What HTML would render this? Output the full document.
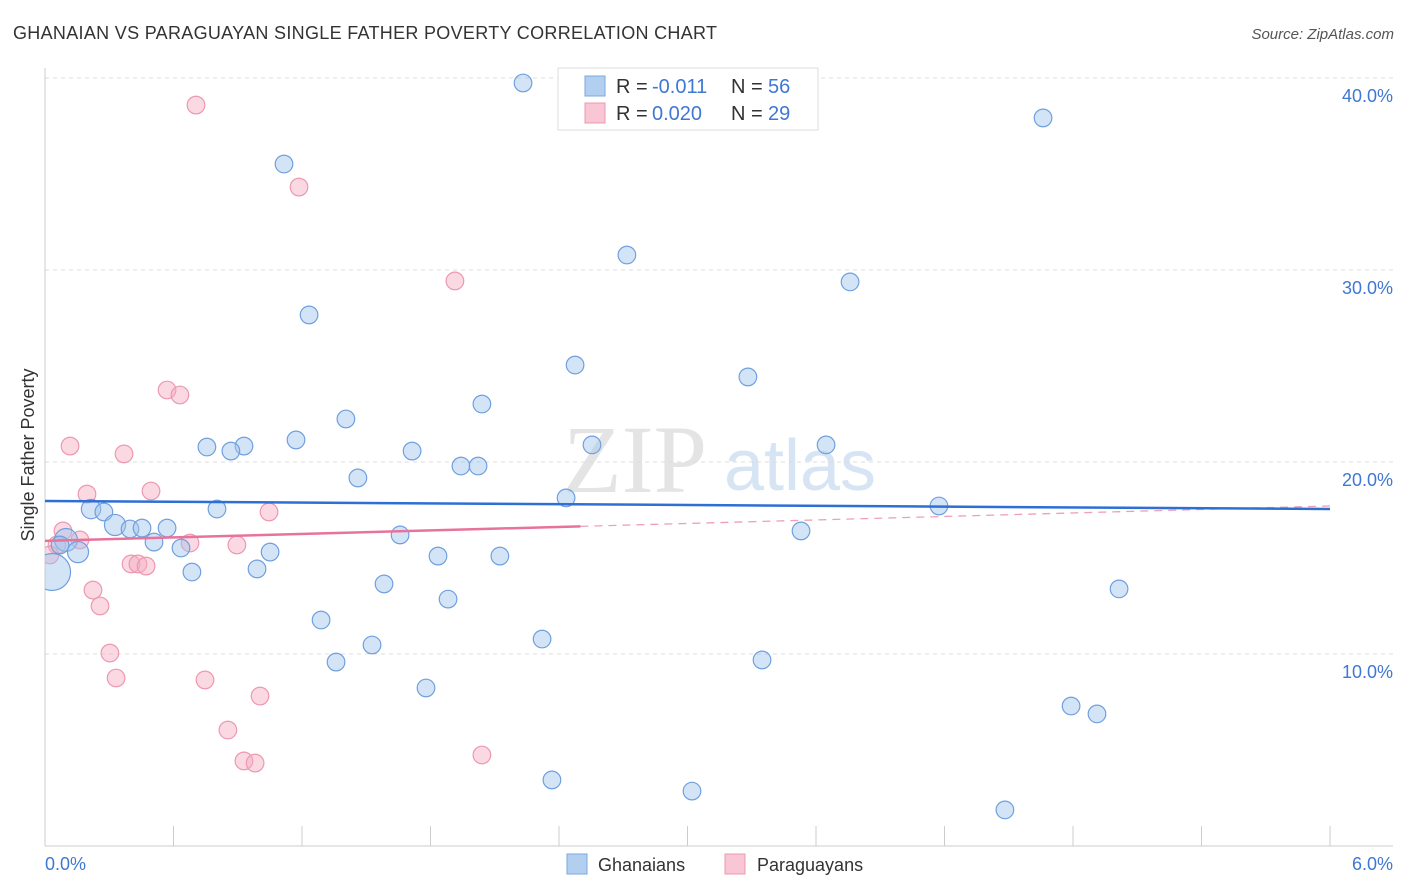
<!DOCTYPE html>
<html><head><meta charset="utf-8"><style>
body{margin:0;background:#fff;font-family:"Liberation Sans",sans-serif;}
svg{display:block}
</style></head><body>
<svg id="chart" width="1406" height="892">
<text x="13" y="39" font-size="18" fill="#333" textLength="704">GHANAIAN VS PARAGUAYAN SINGLE FATHER POVERTY CORRELATION CHART</text>
<text x="1394" y="39" font-size="15" fill="#555" text-anchor="end" font-style="italic">Source: ZipAtlas.com</text>
<text x="635" y="492" font-size="96" fill="#e4e4e4" text-anchor="middle" font-family="Liberation Serif,serif">ZIP</text>
<text x="800" y="490" font-size="72" fill="#d6e4f4" text-anchor="middle">atlas</text>
<g id="grid"></g><g id="axes"></g>
<defs><clipPath id="pc"><rect x="45" y="60" width="1350" height="786"/></clipPath></defs>
<g id="marks" clip-path="url(#pc)"></g>
<text x="34" y="455" font-size="18" fill="#333" text-anchor="middle" transform="rotate(-90 34 455)">Single Father Poverty</text>
<g>
<rect x="558" y="68" width="260" height="62" fill="#fff" stroke="#ddd"/>
<rect x="585" y="76" width="20" height="20" fill="#b3cff0" stroke="#7aa8e0"/>
<rect x="585" y="103" width="20" height="20" fill="#f8c6d4" stroke="#ee98b0"/>
<text x="616" y="93" font-size="20" fill="#333">R =</text>
<text x="652" y="93" font-size="20" fill="#3f78d2">-0.011</text>
<text x="731" y="93" font-size="20" fill="#333">N =</text>
<text x="768" y="93" font-size="20" fill="#3f78d2">56</text>
<text x="616" y="120" font-size="20" fill="#333">R =</text>
<text x="652" y="120" font-size="20" fill="#3f78d2">0.020</text>
<text x="731" y="120" font-size="20" fill="#333">N =</text>
<text x="768" y="120" font-size="20" fill="#3f78d2">29</text>
</g>
<g>
<rect x="567" y="854" width="20" height="20" fill="#b3cff0" stroke="#7aa8e0"/>
<text x="598" y="871" font-size="18" fill="#333">Ghanaians</text>
<rect x="725" y="854" width="20" height="20" fill="#f8c6d4" stroke="#ee98b0"/>
<text x="757" y="871" font-size="18" fill="#333">Paraguayans</text>
</g>
</svg>
<script>
const blueX=[2.232,4.66,1.116,2.717,3.759,1.233,2.475,3.282,2.040,1.405,1.172,0.756,0.929,0.868,1.714,3.647,2.554,1.942,2.022,1.461,2.433,4.174,0.215,0.275,0.803,0.327,0.397,0.453,0.570,1.658,3.530,0.509,0.635,0.098,0.070,0.154,1.051,1.835,2.124,0.990,0.686,0.033,1.583,5.015,1.882,1.289,2.321,1.527,1.359,3.348,1.779,4.791,4.912,2.367,3.021,4.482];
const blueY=[39.74,37.92,35.52,30.78,29.38,27.66,25.05,24.43,23.02,22.24,21.15,20.78,20.83,20.57,20.57,20.89,20.89,19.79,19.79,19.17,18.13,17.71,17.55,17.40,17.55,16.72,16.51,16.56,16.56,16.20,16.41,15.83,15.52,15.94,15.68,15.31,15.31,15.10,15.10,14.43,14.27,14.27,13.65,13.39,12.86,11.77,10.78,10.47,9.58,9.69,8.23,7.29,6.88,3.44,2.86,1.88];
const blueSize=[1,1,1,1,1,1,1,1,1,1,1,1,1,1,1,1,1,1,1,1,1,1,1.1,1,1,1.2,1,1,1,1,1,1,1,1.3,1,1.2,1,1,1,1,1,2.1,1,1,1,1,1,1,1,1,1,1,1,1,1,1];
const pinkX=[0.705,1.186,1.914,0.570,0.630,0.117,0.369,0.196,0.495,0.084,0.163,1.046,0.677,0.896,0.056,0.023,0.402,0.434,0.472,0.224,0.257,0.303,0.332,0.747,1.004,0.854,0.929,0.981,2.040];
const pinkY=[38.59,34.32,29.43,23.75,23.49,20.83,20.42,18.33,18.49,16.41,15.94,17.40,15.78,15.68,15.68,15.16,14.69,14.69,14.58,13.33,12.50,10.05,8.75,8.65,7.81,6.04,4.43,4.32,4.74];
const blueTrend=[17.97,17.55];
const pinkTrend=[15.89,17.71];
const pinkSolidEnd=2.5;
const yTicks=[10,20,30,40];
const xTickVals=[0.6,1.2,1.8,2.4,3.0,3.6,4.2,4.8,5.4,6.0];
const NS='http://www.w3.org/2000/svg';
const X=v=>45+v*214.17, Y=v=>846-v*19.2;
function mk(t,a,p){const e=document.createElementNS(NS,t);for(const k in a)e.setAttribute(k,a[k]);p.appendChild(e);return e;}
const grid=document.getElementById('grid'),axes=document.getElementById('axes'),marks=document.getElementById('marks'),svg=document.getElementById('chart');
yTicks.forEach(v=>{
 const l=mk('line',{x1:45,x2:1393,y1:Y(v),y2:Y(v),stroke:'#ddd','stroke-dasharray':'4,4'},grid);
 
 
 const t=mk('text',{x:1393,y:Y(v)+24,'font-size':18,fill:'#3f78d2','text-anchor':'end'},svg);
 t.textContent=v.toFixed(1)+'%';
 
 
});
let a=mk('line',{x1:45,x2:1393,y1:846,y2:846,stroke:'#ccc'},axes);


a=mk('line',{x1:45,x2:45,y1:68,y2:846,stroke:'#ccc'},axes);


xTickVals.forEach(v=>{const l=mk('line',{x1:X(v),x2:X(v),y1:826,y2:846,stroke:'#ccc'},axes);
 
 });
[[0,'start',45],[6,'end',1393]].forEach(([v,an,x])=>{const t=mk('text',{x:x,y:870,'font-size':18,fill:'#3f78d2','text-anchor':an},svg);
 t.textContent=v.toFixed(1)+'%';
 
 });
pinkX.forEach((x,i)=>{const c=mk('circle',{cx:X(x),cy:Y(pinkY[i]),r:8.8,fill:'rgba(245,170,192,0.45)',stroke:'#ee98b0','stroke-width':1.2},marks);
 
 });
blueX.forEach((x,i)=>{const c=mk('circle',{cx:X(x),cy:Y(blueY[i]),r:8.8*blueSize[i],fill:'rgba(160,195,238,0.45)',stroke:'#6fa0de','stroke-width':1.2},marks);
 
 });
const pAt=v=>pinkTrend[0]+(pinkTrend[1]-pinkTrend[0])*v/6;
let l=mk('line',{x1:X(pinkSolidEnd),y1:Y(pAt(pinkSolidEnd)),x2:X(6),y2:Y(pinkTrend[1]),stroke:'#eea0b8','stroke-width':1.3,'stroke-dasharray':'8,6'},marks);


l=mk('line',{x1:X(0),y1:Y(pinkTrend[0]),x2:X(pinkSolidEnd),y2:Y(pAt(pinkSolidEnd)),stroke:'#e8739a','stroke-width':2.5},marks);


l=mk('line',{x1:X(0),y1:Y(blueTrend[0]),x2:X(6),y2:Y(blueTrend[1]),stroke:'#2e6fd6','stroke-width':2.5},marks);


</script>
</body></html>
